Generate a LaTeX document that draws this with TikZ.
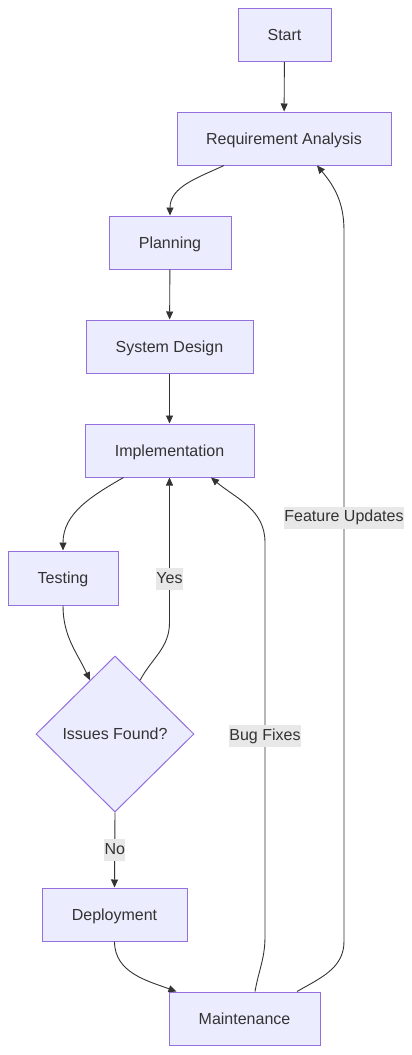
\documentclass[tikz,border=0pt]{standalone}
\usepackage{fontspec}
\setmainfont{Liberation Sans}
\usetikzlibrary{arrows.meta, positioning, shapes.geometric, calc}
\definecolor{mfill}{HTML}{ECECFF}
\definecolor{mstroke}{HTML}{9370DB}
\definecolor{mtext}{HTML}{333333}
\definecolor{mlabel}{HTML}{E8E8E8}
\tikzset{
  every picture/.style={font=\fontsize{16}{19}\selectfont, x=1pt, y=1pt},
  stage/.style={draw=mstroke, fill=mfill, text=mtext, line width=1pt, minimum height=53pt, inner sep=0pt, text height=11.5pt, text depth=0pt},
  decision/.style={diamond, draw=mstroke, fill=mfill, text=mtext, line width=1pt, minimum width=158pt, minimum height=156pt, inner sep=0pt, text height=11.5pt, text depth=0pt},
  arrow/.style={-{Triangle[length=8pt, width=7pt]}, draw=mtext, line width=0.9pt},
  elabel/.style={fill=mlabel, text=mtext, inner xsep=0.5pt, inner ysep=3pt, text height=12pt, text depth=4pt},
}

\begin{document}
\begin{tikzpicture}
  \useasboundingbox (0,0) rectangle (412,-1055);
  % stages
  \node[stage, minimum width=93pt] (start) at (284.5,-35) {Start};
  \node[stage, minimum width=214pt] (req) at (284,-138.5) {Requirement Analysis};
  \node[stage, minimum width=122pt] (plan) at (170,-242.5) {Planning};
  \node[stage, minimum width=167pt] (design) at (169.5,-346.5) {System Design};
  \node[stage, minimum width=169pt] (impl) at (169.5,-450.5) {Implementation};
  \node[stage, minimum width=110pt, minimum height=54pt] (test) at (63,-578) {Testing};
  \node[decision] (issues) at (115,-734) {Issues Found?};
  \node[stage, minimum width=145pt] (deploy) at (114.5,-914.5) {Deployment};
  \node[stage, minimum width=151pt] (maint) at (244.5,-1018.5) {Maintenance};
  % flow
  \draw[arrow] (start) -- (req);
  \draw[arrow] ([xshift=-60pt]req.south) to[out=-155, in=90] (plan.north);
  \draw[arrow] (plan) -- (design);
  \draw[arrow] (design) -- (impl);
  \draw[arrow] ([xshift=-46pt]impl.south) to[out=-150, in=90] (test.north);
  \draw[arrow] (test.south) to[out=-90, in=115] (issues);
  \draw[arrow] (issues.65) to[out=62, in=-90] ($(impl.south)+(0,-145)$)
    -- node[elabel, pos=0.3] {Yes} (impl.south);
  \draw[arrow] (issues.south) -- node[elabel] {No} (deploy.north);
  \draw[arrow] (deploy.south) to[out=-90, in=160] ([xshift=8pt]maint.north west);
  % feedback loops
  \draw[arrow] ([xshift=10.5pt]maint.north) to[out=80, in=-90] ($(maint.north)+(20.5,55)$)
    -- node[elabel, pos=0.508] {Bug Fixes} ($(impl.south)+(95.5,-65)$)
    to[out=90, in=-40] ([xshift=41.5pt]impl.south);
  \draw[arrow] ([xshift=52.5pt]maint.north) to[out=30, in=-90] ($(maint.north)+(99.5,50)$)
    -- node[elabel, pos=0.596] {Feature Updates} ($(req.south)+(60,-65)$)
    to[out=90, in=-50] ([xshift=33pt]req.south);
\end{tikzpicture}
\end{document}
